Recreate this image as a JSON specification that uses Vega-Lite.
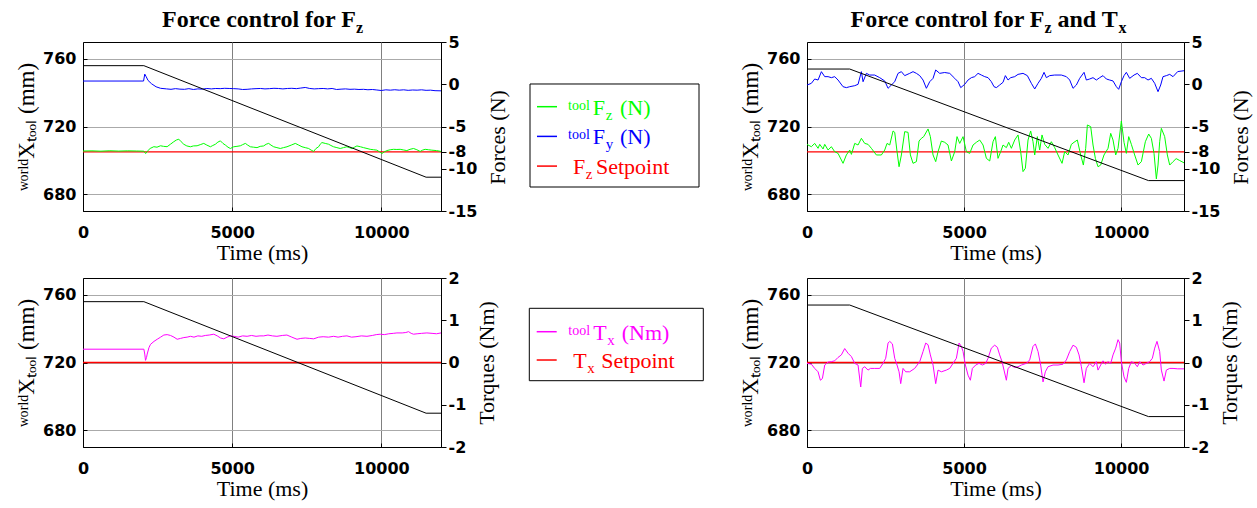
{
"$schema":"https://vega.github.io/schema/vega-lite/v6.json",
"background":"white",
"padding":{"left":15,"top":7,"right":2,"bottom":2},
"columns":3,
"bounds":"flush",
"spacing":{"row":67,"column":0},
"config":{
 "view":{"stroke":"black","strokeWidth":1},
 "axis":{"domainColor":"black","domainWidth":1,"tickColor":"black","tickWidth":1,"labelColor":"black","labelFont":"DejaVu Sans","labelFontWeight":"bold","labelFontSize":16,"titleColor":"black","titleFont":"Liberation Serif","titleFontWeight":"normal","titleFontSize":22,"gridWidth":1,"gridOpacity":1}
},
"datasets":{
 "sp8":[{"t":0,"v":-8},{"t":12000,"v":-8}],
 "sp0":[{"t":0,"v":0},{"t":12000,"v":0}],
 "b1":[{"t":0,"v":756},{"t":2040,"v":756},{"t":11500,"v":690},{"t":12000,"v":690}],
 "b2":[{"t":0,"v":754},{"t":1360,"v":754},{"t":10870,"v":688},{"t":12000,"v":688}],
 "ttl":[{"k":"main"}],
 "p1fy":[{"t":0,"v":0.38},{"t":2030,"v":0.38},{"t":2070,"v":1.2},{"t":2110,"v":0.95},{"t":2180,"v":0.45},{"t":2300,"v":0.05},{"t":2450,"v":-0.3},{"t":2600,"v":-0.48},{"t":2800,"v":-0.55},{"t":2950,"v":-0.6},{"t":3100,"v":-0.52},{"t":3250,"v":-0.58},{"t":3400,"v":-0.6},{"t":3550,"v":-0.52},{"t":3700,"v":-0.62},{"t":3850,"v":-0.55},{"t":4000,"v":-0.58},{"t":4150,"v":-0.5},{"t":4300,"v":-0.55},{"t":4450,"v":-0.5},{"t":4600,"v":-0.52},{"t":4750,"v":-0.48},{"t":4900,"v":-0.5},{"t":5050,"v":-0.52},{"t":5200,"v":-0.55},{"t":5350,"v":-0.62},{"t":5500,"v":-0.6},{"t":5650,"v":-0.55},{"t":5800,"v":-0.52},{"t":5950,"v":-0.5},{"t":6100,"v":-0.55},{"t":6250,"v":-0.52},{"t":6400,"v":-0.48},{"t":6550,"v":-0.5},{"t":6700,"v":-0.55},{"t":6850,"v":-0.5},{"t":7000,"v":-0.48},{"t":7150,"v":-0.52},{"t":7300,"v":-0.45},{"t":7450,"v":-0.38},{"t":7600,"v":-0.5},{"t":7750,"v":-0.55},{"t":7900,"v":-0.52},{"t":8050,"v":-0.5},{"t":8200,"v":-0.55},{"t":8350,"v":-0.5},{"t":8500,"v":-0.62},{"t":8650,"v":-0.58},{"t":8800,"v":-0.55},{"t":8950,"v":-0.6},{"t":9100,"v":-0.58},{"t":9250,"v":-0.62},{"t":9400,"v":-0.6},{"t":9550,"v":-0.65},{"t":9700,"v":-0.62},{"t":9850,"v":-0.68},{"t":10000,"v":-0.74},{"t":10150,"v":-0.66},{"t":10300,"v":-0.7},{"t":10450,"v":-0.65},{"t":10600,"v":-0.7},{"t":10750,"v":-0.66},{"t":10900,"v":-0.72},{"t":11050,"v":-0.68},{"t":11200,"v":-0.7},{"t":11350,"v":-0.66},{"t":11500,"v":-0.72},{"t":11650,"v":-0.7},{"t":11800,"v":-0.76},{"t":12000,"v":-0.78}],
 "p1fz":[{"t":0,"v":-7.9},{"t":300,"v":-7.88},{"t":600,"v":-7.92},{"t":900,"v":-7.87},{"t":1200,"v":-7.91},{"t":1500,"v":-7.88},{"t":1800,"v":-7.9},{"t":2040,"v":-7.92},{"t":2100,"v":-8.2},{"t":2150,"v":-7.95},{"t":2250,"v":-7.6},{"t":2374,"v":-7.39},{"t":2480,"v":-7.45},{"t":2597,"v":-7.28},{"t":2700,"v":-7.35},{"t":2820,"v":-7.39},{"t":2930,"v":-7.1},{"t":3043,"v":-6.8},{"t":3130,"v":-6.6},{"t":3211,"v":-6.5},{"t":3290,"v":-6.8},{"t":3378,"v":-7.1},{"t":3480,"v":-7.3},{"t":3601,"v":-7.4},{"t":3700,"v":-7.3},{"t":3824,"v":-7.28},{"t":3930,"v":-7.15},{"t":4048,"v":-7.0},{"t":4150,"v":-7.2},{"t":4271,"v":-7.4},{"t":4350,"v":-7.25},{"t":4438,"v":-7.1},{"t":4520,"v":-6.85},{"t":4606,"v":-6.7},{"t":4690,"v":-7.0},{"t":4773,"v":-7.2},{"t":4860,"v":-7.45},{"t":4940,"v":-7.6},{"t":5052,"v":-7.4},{"t":5160,"v":-7.35},{"t":5275,"v":-7.28},{"t":5350,"v":-7.15},{"t":5443,"v":-7.0},{"t":5520,"v":-7.2},{"t":5610,"v":-7.4},{"t":5720,"v":-7.45},{"t":5833,"v":-7.5},{"t":5940,"v":-7.35},{"t":6056,"v":-7.3},{"t":6140,"v":-7.1},{"t":6224,"v":-7.0},{"t":6300,"v":-7.2},{"t":6391,"v":-7.4},{"t":6500,"v":-7.5},{"t":6614,"v":-7.6},{"t":6720,"v":-7.5},{"t":6838,"v":-7.4},{"t":6980,"v":-7.2},{"t":7117,"v":-7.0},{"t":7230,"v":-7.2},{"t":7340,"v":-7.4},{"t":7450,"v":-7.5},{"t":7563,"v":-7.6},{"t":7650,"v":-7.8},{"t":7730,"v":-7.95},{"t":7810,"v":-7.6},{"t":7898,"v":-7.4},{"t":7950,"v":-7.1},{"t":8009,"v":-6.9},{"t":8120,"v":-7.0},{"t":8233,"v":-7.1},{"t":8310,"v":-7.25},{"t":8400,"v":-7.4},{"t":8510,"v":-7.5},{"t":8623,"v":-7.6},{"t":8730,"v":-7.5},{"t":8846,"v":-7.4},{"t":8930,"v":-7.5},{"t":9014,"v":-7.6},{"t":9100,"v":-7.45},{"t":9181,"v":-7.3},{"t":9300,"v":-7.4},{"t":9404,"v":-7.5},{"t":9520,"v":-7.6},{"t":9628,"v":-7.7},{"t":9740,"v":-7.75},{"t":9851,"v":-7.8},{"t":9940,"v":-8.0},{"t":10018,"v":-8.2},{"t":10100,"v":-8.0},{"t":10186,"v":-7.85},{"t":10300,"v":-7.75},{"t":10409,"v":-7.7},{"t":10520,"v":-7.72},{"t":10632,"v":-7.7},{"t":10750,"v":-7.78},{"t":10855,"v":-7.85},{"t":10960,"v":-7.7},{"t":11078,"v":-7.6},{"t":11190,"v":-7.75},{"t":11302,"v":-7.95},{"t":11380,"v":-7.8},{"t":11469,"v":-7.7},{"t":11580,"v":-7.75},{"t":11692,"v":-7.8},{"t":11850,"v":-7.85},{"t":12000,"v":-7.95}],
 "p2fy":[{"t":0,"v":-0.09},{"t":139,"v":0.11},{"t":245,"v":0.62},{"t":352,"v":0.5},{"t":458,"v":1.49},{"t":564,"v":0.9},{"t":670,"v":0.9},{"t":776,"v":0.78},{"t":882,"v":0.9},{"t":988,"v":0.5},{"t":1147,"v":-0.29},{"t":1253,"v":-0.4},{"t":1360,"v":-0.29},{"t":1519,"v":-0.17},{"t":1625,"v":-0.01},{"t":1731,"v":1.49},{"t":1784,"v":0.3},{"t":1890,"v":1.29},{"t":1996,"v":1.09},{"t":2155,"v":1.09},{"t":2314,"v":0.78},{"t":2474,"v":0.39},{"t":2580,"v":-0.48},{"t":2686,"v":-0.09},{"t":2792,"v":0.3},{"t":2898,"v":1.29},{"t":3004,"v":1.49},{"t":3110,"v":1.02},{"t":3269,"v":1.29},{"t":3375,"v":1.49},{"t":3482,"v":1.29},{"t":3588,"v":1.02},{"t":3694,"v":0.5},{"t":3800,"v":-0.48},{"t":3906,"v":0.3},{"t":4012,"v":0.7},{"t":4097,"v":1.69},{"t":4224,"v":1.29},{"t":4383,"v":1.39},{"t":4543,"v":1.29},{"t":4702,"v":0.7},{"t":4808,"v":0.3},{"t":4893,"v":-0.4},{"t":5020,"v":-0.01},{"t":5126,"v":0.5},{"t":5232,"v":0.78},{"t":5338,"v":0.9},{"t":5444,"v":1.29},{"t":5550,"v":1.09},{"t":5657,"v":0.9},{"t":5763,"v":0.78},{"t":5868,"v":0.3},{"t":5953,"v":-0.29},{"t":6027,"v":-0.4},{"t":6133,"v":-0.09},{"t":6240,"v":0.23},{"t":6314,"v":1.02},{"t":6399,"v":0.5},{"t":6484,"v":0.78},{"t":6611,"v":0.9},{"t":6717,"v":1.17},{"t":6876,"v":1.29},{"t":7014,"v":1.02},{"t":7141,"v":0.11},{"t":7248,"v":-0.56},{"t":7354,"v":0.11},{"t":7460,"v":0.7},{"t":7545,"v":1.41},{"t":7619,"v":0.78},{"t":7725,"v":1.02},{"t":7884,"v":1.09},{"t":8096,"v":1.09},{"t":8255,"v":0.9},{"t":8362,"v":0.5},{"t":8468,"v":-0.48},{"t":8574,"v":-0.09},{"t":8680,"v":0.7},{"t":8818,"v":1.41},{"t":8892,"v":0.5},{"t":8998,"v":0.62},{"t":9104,"v":0.78},{"t":9210,"v":0.5},{"t":9316,"v":0.78},{"t":9423,"v":1.02},{"t":9529,"v":0.62},{"t":9635,"v":0.5},{"t":9741,"v":0.39},{"t":9847,"v":-0.29},{"t":9921,"v":-0.6},{"t":10006,"v":0.3},{"t":10091,"v":1.02},{"t":10165,"v":1.41},{"t":10271,"v":0.7},{"t":10409,"v":1.09},{"t":10515,"v":1.29},{"t":10643,"v":0.78},{"t":10749,"v":0.78},{"t":10855,"v":0.5},{"t":10961,"v":0.7},{"t":11067,"v":0.11},{"t":11173,"v":-0.88},{"t":11258,"v":-0.09},{"t":11332,"v":0.9},{"t":11438,"v":1.02},{"t":11545,"v":1.17},{"t":11651,"v":0.9},{"t":11800,"v":1.5},{"t":12000,"v":1.6}],
 "p2fz":[{"t":0,"v":-7.1},{"t":33,"v":-7.19},{"t":139,"v":-7.39},{"t":245,"v":-7.0},{"t":352,"v":-7.58},{"t":405,"v":-7.11},{"t":511,"v":-7.66},{"t":564,"v":-7.11},{"t":670,"v":-7.78},{"t":776,"v":-7.39},{"t":882,"v":-7.98},{"t":988,"v":-8.18},{"t":1147,"v":-9.36},{"t":1253,"v":-8.37},{"t":1360,"v":-7.78},{"t":1413,"v":-8.3},{"t":1519,"v":-7.0},{"t":1625,"v":-7.19},{"t":1731,"v":-6.4},{"t":1837,"v":-7.0},{"t":1943,"v":-7.11},{"t":2049,"v":-7.58},{"t":2208,"v":-8.37},{"t":2367,"v":-8.37},{"t":2474,"v":-7.78},{"t":2548,"v":-7.0},{"t":2633,"v":-7.19},{"t":2739,"v":-5.53},{"t":2792,"v":-5.69},{"t":2866,"v":-7.98},{"t":2930,"v":-9.76},{"t":3004,"v":-8.37},{"t":3110,"v":-5.61},{"t":3216,"v":-5.69},{"t":3291,"v":-8.37},{"t":3375,"v":-9.36},{"t":3482,"v":-9.16},{"t":3566,"v":-6.72},{"t":3641,"v":-6.4},{"t":3715,"v":-6.2},{"t":3853,"v":-5.29},{"t":3927,"v":-6.2},{"t":4012,"v":-8.37},{"t":4097,"v":-9.16},{"t":4171,"v":-7.98},{"t":4277,"v":-6.72},{"t":4383,"v":-6.87},{"t":4489,"v":-7.19},{"t":4596,"v":-9.08},{"t":4702,"v":-7.98},{"t":4776,"v":-6.2},{"t":4861,"v":-7.0},{"t":4967,"v":-6.2},{"t":5073,"v":-7.98},{"t":5179,"v":-8.18},{"t":5285,"v":-7.19},{"t":5391,"v":-6.87},{"t":5497,"v":-6.6},{"t":5604,"v":-7.19},{"t":5710,"v":-8.77},{"t":5816,"v":-9.08},{"t":5921,"v":-6.8},{"t":5996,"v":-6.2},{"t":6080,"v":-8.77},{"t":6165,"v":-7.98},{"t":6240,"v":-7.19},{"t":6346,"v":-7.5},{"t":6420,"v":-6.87},{"t":6505,"v":-7.58},{"t":6611,"v":-6.6},{"t":6717,"v":-6.0},{"t":6802,"v":-7.98},{"t":6876,"v":-10.34},{"t":6950,"v":-9.95},{"t":7035,"v":-6.6},{"t":7120,"v":-5.53},{"t":7194,"v":-6.8},{"t":7248,"v":-8.37},{"t":7332,"v":-6.2},{"t":7407,"v":-7.78},{"t":7481,"v":-6.0},{"t":7566,"v":-7.11},{"t":7672,"v":-7.58},{"t":7778,"v":-6.8},{"t":7884,"v":-7.5},{"t":7990,"v":-8.37},{"t":8118,"v":-9.36},{"t":8202,"v":-7.98},{"t":8309,"v":-8.37},{"t":8415,"v":-7.11},{"t":8499,"v":-6.87},{"t":8605,"v":-6.6},{"t":8712,"v":-8.37},{"t":8797,"v":-9.56},{"t":8871,"v":-7.58},{"t":8924,"v":-4.82},{"t":9030,"v":-5.02},{"t":9104,"v":-7.19},{"t":9179,"v":-8.77},{"t":9263,"v":-9.76},{"t":9348,"v":-9.56},{"t":9454,"v":-8.37},{"t":9582,"v":-7.58},{"t":9667,"v":-5.81},{"t":9741,"v":-6.6},{"t":9826,"v":-8.37},{"t":9900,"v":-7.58},{"t":10006,"v":-4.35},{"t":10091,"v":-6.87},{"t":10165,"v":-8.18},{"t":10240,"v":-6.2},{"t":10324,"v":-7.11},{"t":10430,"v":-8.37},{"t":10537,"v":-9.56},{"t":10643,"v":-9.16},{"t":10770,"v":-6.8},{"t":10876,"v":-5.89},{"t":10961,"v":-6.4},{"t":11046,"v":-8.18},{"t":11120,"v":-11.2},{"t":11173,"v":-9.56},{"t":11226,"v":-6.8},{"t":11279,"v":-5.22},{"t":11385,"v":-6.2},{"t":11470,"v":-8.37},{"t":11545,"v":-9.56},{"t":11651,"v":-9.16},{"t":11750,"v":-8.8},{"t":11850,"v":-9.0},{"t":12000,"v":-9.3}],
 "p3tx":[{"t":0,"v":0.315},{"t":2040,"v":0.315},{"t":2070,"v":0.2},{"t":2096,"v":0.05},{"t":2130,"v":0.12},{"t":2152,"v":0.2},{"t":2210,"v":0.35},{"t":2264,"v":0.43},{"t":2380,"v":0.5},{"t":2487,"v":0.55},{"t":2600,"v":0.6},{"t":2710,"v":0.65},{"t":2820,"v":0.66},{"t":2933,"v":0.64},{"t":3050,"v":0.6},{"t":3156,"v":0.55},{"t":3270,"v":0.57},{"t":3380,"v":0.59},{"t":3490,"v":0.6},{"t":3603,"v":0.62},{"t":3720,"v":0.6},{"t":3850,"v":0.63},{"t":3980,"v":0.62},{"t":4100,"v":0.64},{"t":4230,"v":0.65},{"t":4384,"v":0.67},{"t":4500,"v":0.63},{"t":4610,"v":0.58},{"t":4719,"v":0.56},{"t":4830,"v":0.6},{"t":4942,"v":0.63},{"t":5060,"v":0.62},{"t":5200,"v":0.6},{"t":5350,"v":0.63},{"t":5500,"v":0.62},{"t":5650,"v":0.64},{"t":5800,"v":0.62},{"t":5930,"v":0.63},{"t":6058,"v":0.63},{"t":6200,"v":0.65},{"t":6350,"v":0.63},{"t":6500,"v":0.62},{"t":6680,"v":0.64},{"t":6835,"v":0.65},{"t":7000,"v":0.6},{"t":7174,"v":0.55},{"t":7300,"v":0.57},{"t":7450,"v":0.58},{"t":7600,"v":0.57},{"t":7732,"v":0.56},{"t":7900,"v":0.6},{"t":8050,"v":0.61},{"t":8230,"v":0.6},{"t":8402,"v":0.62},{"t":8550,"v":0.6},{"t":8700,"v":0.62},{"t":8848,"v":0.63},{"t":9000,"v":0.6},{"t":9150,"v":0.61},{"t":9330,"v":0.63},{"t":9518,"v":0.62},{"t":9700,"v":0.64},{"t":9830,"v":0.66},{"t":9964,"v":0.67},{"t":10100,"v":0.66},{"t":10250,"v":0.68},{"t":10400,"v":0.69},{"t":10522,"v":0.7},{"t":10700,"v":0.7},{"t":10820,"v":0.71},{"t":10913,"v":0.73},{"t":11000,"v":0.69},{"t":11080,"v":0.67},{"t":11200,"v":0.68},{"t":11350,"v":0.69},{"t":11526,"v":0.7},{"t":11700,"v":0.69},{"t":11850,"v":0.68},{"t":12000,"v":0.7}],
 "p4tx":[{"t":0,"v":-0.02},{"t":139,"v":-0.04},{"t":245,"v":-0.14},{"t":352,"v":-0.22},{"t":426,"v":-0.42},{"t":490,"v":-0.38},{"t":564,"v":-0.06},{"t":670,"v":0.01},{"t":776,"v":0.02},{"t":882,"v":0.04},{"t":988,"v":0.12},{"t":1094,"v":0.18},{"t":1200,"v":0.33},{"t":1306,"v":0.22},{"t":1413,"v":0.14},{"t":1519,"v":-0.02},{"t":1625,"v":-0.06},{"t":1710,"v":-0.58},{"t":1763,"v":-0.14},{"t":1837,"v":-0.1},{"t":1943,"v":-0.18},{"t":2017,"v":-0.14},{"t":2155,"v":-0.14},{"t":2314,"v":-0.14},{"t":2420,"v":-0.02},{"t":2505,"v":0.1},{"t":2580,"v":0.46},{"t":2633,"v":0.5},{"t":2718,"v":0.44},{"t":2792,"v":0.1},{"t":2866,"v":-0.06},{"t":2930,"v":-0.22},{"t":2983,"v":-0.5},{"t":3057,"v":-0.14},{"t":3142,"v":-0.22},{"t":3269,"v":-0.22},{"t":3428,"v":-0.14},{"t":3588,"v":0.02},{"t":3694,"v":0.26},{"t":3779,"v":0.46},{"t":3853,"v":0.42},{"t":3927,"v":0.18},{"t":4012,"v":-0.06},{"t":4097,"v":-0.5},{"t":4171,"v":-0.18},{"t":4277,"v":-0.22},{"t":4436,"v":-0.18},{"t":4543,"v":-0.14},{"t":4648,"v":-0.02},{"t":4755,"v":0.1},{"t":4840,"v":0.46},{"t":4914,"v":0.38},{"t":4967,"v":0.26},{"t":5041,"v":-0.06},{"t":5126,"v":-0.3},{"t":5200,"v":-0.42},{"t":5264,"v":-0.14},{"t":5370,"v":-0.06},{"t":5476,"v":-0.02},{"t":5582,"v":-0.06},{"t":5689,"v":-0.02},{"t":5762,"v":0.1},{"t":5868,"v":0.34},{"t":5974,"v":0.41},{"t":6059,"v":0.36},{"t":6133,"v":0.18},{"t":6208,"v":0.02},{"t":6271,"v":-0.18},{"t":6346,"v":-0.42},{"t":6399,"v":-0.14},{"t":6505,"v":-0.07},{"t":6611,"v":-0.12},{"t":6717,"v":-0.1},{"t":6823,"v":-0.06},{"t":6982,"v":-0.02},{"t":7088,"v":0.06},{"t":7194,"v":0.38},{"t":7269,"v":0.44},{"t":7354,"v":0.26},{"t":7438,"v":-0.06},{"t":7513,"v":-0.46},{"t":7587,"v":-0.22},{"t":7672,"v":-0.1},{"t":7831,"v":-0.06},{"t":7990,"v":-0.06},{"t":8149,"v":-0.04},{"t":8255,"v":0.06},{"t":8362,"v":0.26},{"t":8468,"v":0.41},{"t":8574,"v":0.36},{"t":8659,"v":0.18},{"t":8733,"v":-0.1},{"t":8818,"v":-0.48},{"t":8892,"v":-0.14},{"t":8998,"v":-0.02},{"t":9104,"v":-0.1},{"t":9210,"v":0.02},{"t":9263,"v":-0.18},{"t":9348,"v":-0.06},{"t":9423,"v":0.04},{"t":9497,"v":-0.04},{"t":9582,"v":0.02},{"t":9667,"v":-0.02},{"t":9741,"v":0.18},{"t":9826,"v":0.34},{"t":9900,"v":0.54},{"t":9953,"v":0.46},{"t":10006,"v":0.02},{"t":10091,"v":-0.34},{"t":10165,"v":-0.47},{"t":10240,"v":-0.14},{"t":10324,"v":0.02},{"t":10430,"v":-0.02},{"t":10515,"v":-0.1},{"t":10590,"v":0.02},{"t":10696,"v":-0.06},{"t":10802,"v":-0.02},{"t":10908,"v":0.02},{"t":10993,"v":0.1},{"t":11067,"v":0.34},{"t":11141,"v":0.5},{"t":11226,"v":0.26},{"t":11279,"v":-0.18},{"t":11364,"v":-0.44},{"t":11438,"v":-0.18},{"t":11545,"v":-0.14},{"t":11651,"v":-0.14},{"t":11800,"v":-0.15},{"t":12000,"v":-0.15}],
 "L1":[{"e":1,"s":"fz","sup":"tool","m":"F","sub":"z","r":"(N)"},{"e":2,"s":"fy","sup":"tool","m":"F","sub":"y","r":"(N)"},{"e":3,"s":"sp","m":"F","sub":"z","r":"Setpoint"}],
 "L2":[{"e":1,"s":"tx","sup":"tool","m":"T","sub":"x","r":"(Nm)"},{"e":2,"s":"sp","m":"T","sub":"x","r":"Setpoint"}]
},
"concat":[
 {
  "width":358,"height":169,
  "layer":[
   {
    "encoding":{
     "x":{"field":"t","type":"quantitative","scale":{"domain":[0,12000],"nice":false,"zero":false},"axis":{"values":[0,5000,10000],"labelExpr":"toString(datum.value)","title":"Time (ms)","grid":true,"gridColor":"#808080","tickSize":-4,"labelPadding":17,"labelFlush":false,"titlePadding":2}},
     "y":{"field":"v","type":"quantitative","scale":{"domain":[-15,5],"nice":false,"zero":false},"axis":{"orient":"right","values":[5,0,-5,-8,-10,-15],"labelExpr":"toString(datum.value)","title":"Forces (N)","grid":false,"tickSize":5,"labelPadding":2,"labelOverlap":false,"titleAngle":270,"titleBaseline":"top","titlePadding":11,"titleY":95}}
    },
    "layer":[
     {"data":{"name":"sp8"},"mark":{"type":"line","color":"#ff0000","strokeWidth":1.3}},
     {"data":{"name":"p1fy"},"mark":{"type":"line","color":"#0000ff","strokeWidth":1}},
     {"data":{"name":"p1fz"},"mark":{"type":"line","color":"#00ff00","strokeWidth":1}}
    ]
   },
   {
    "encoding":{
     "x":{"field":"t","type":"quantitative","scale":{"domain":[0,12000],"nice":false,"zero":false},"axis":{"values":[0,5000,10000],"labelExpr":"toString(datum.value)","title":"Time (ms)","grid":true,"gridColor":"#808080","tickSize":-4,"labelPadding":17,"labelFlush":false,"titlePadding":2}},
     "y":{"field":"v","type":"quantitative","scale":{"domain":[670,770],"nice":false,"zero":false},"axis":{"orient":"left","values":[680,720,760],"labelExpr":"toString(datum.value)","title":"ʷᵒʳˡᵈXₜₒₒₗ (mm)","grid":true,"gridColor":"#aaaaaa","tickSize":-4,"labelPadding":11,"titlePadding":4,"titleFontSize":23}}
    },
    "layer":[
     {"data":{"name":"b1"},"mark":{"type":"line","color":"black","strokeWidth":1}}
    ]
   },
   {"data":{"name":"ttl"},"mark":{"type":"text","font":"Liberation Serif","fontWeight":"bold","fontSize":24,"align":"right","baseline":"alphabetic","color":"black"},
    "encoding":{"x":{"datum":9150,"type":"quantitative","scale":{"domain":[0,12000],"nice":false,"zero":false},"axis":{"values":[0,5000,10000],"labelExpr":"toString(datum.value)","title":"Time (ms)","grid":true,"gridColor":"#808080","tickSize":-4,"labelPadding":17,"labelFlush":false,"titlePadding":2}},"y":{"datum":779,"type":"quantitative","scale":{"domain":[670,770],"nice":false,"zero":false},"axis":null},"text":{"value":"Force control for F"}}},
   {"data":{"name":"ttl"},"mark":{"type":"text","font":"Liberation Serif","fontWeight":"bold","fontSize":16,"align":"left","baseline":"alphabetic","dy":6,"color":"black"},
    "encoding":{"x":{"datum":9150,"type":"quantitative","scale":{"domain":[0,12000],"nice":false,"zero":false},"axis":{"values":[0,5000,10000],"labelExpr":"toString(datum.value)","title":"Time (ms)","grid":true,"gridColor":"#808080","tickSize":-4,"labelPadding":17,"labelFlush":false,"titlePadding":2}},"y":{"datum":779,"type":"quantitative","scale":{"domain":[670,770],"nice":false,"zero":false},"axis":null},"text":{"value":"z"}}}
  ],
  "resolve":{"scale":{"y":"independent"}}
 },
 {
  "width":366,"height":169,"view":{"stroke":null},
  "data":{"name":"L1"},
  "layer":[
   {"data":{"name":"ttl"},"mark":{"type":"rect","fill":"white","stroke":"black","strokeWidth":1},
    "encoding":{"x":{"datum":89,"type":"quantitative","scale":{"domain":[0,366],"nice":false,"zero":false},"axis":null},"x2":{"datum":258},"y":{"datum":0.236,"type":"quantitative","scale":{"domain":[4.512,-1.178],"nice":false,"zero":false},"axis":null},"y2":{"datum":3.704}}},
   {"mark":{"type":"rule","strokeWidth":1.5},
    "encoding":{"x":{"datum":96,"type":"quantitative","scale":{"domain":[0,366],"nice":false,"zero":false},"axis":null},"x2":{"datum":116},"y":{"field":"e","type":"quantitative","scale":{"domain":[4.512,-1.178],"nice":false,"zero":false},"axis":null},"color":{"field":"s","type":"nominal","scale":{"domain":["sp","fy","fz","tx"],"range":["#ff0000","#0000ff","#00ff00","#ff00ff"]},"legend":null}}},
   {"transform":[{"filter":"datum.sup"}],"mark":{"type":"text","font":"Liberation Serif","fontSize":14,"align":"left","baseline":"alphabetic","dy":3},
    "encoding":{"x":{"datum":127,"type":"quantitative","scale":{"domain":[0,366],"nice":false,"zero":false},"axis":null},"y":{"field":"e","type":"quantitative","scale":{"domain":[4.512,-1.178],"nice":false,"zero":false},"axis":null},"text":{"field":"sup"},"color":{"field":"s","type":"nominal","scale":{"domain":["sp","fy","fz","tx"],"range":["#ff0000","#0000ff","#00ff00","#ff00ff"]},"legend":null}}},
   {"transform":[{"filter":"datum.sup"}],"mark":{"type":"text","font":"Liberation Serif","fontSize":22,"align":"left","baseline":"alphabetic","dy":8},
    "encoding":{"x":{"datum":151.7,"type":"quantitative","scale":{"domain":[0,366],"nice":false,"zero":false},"axis":null},"y":{"field":"e","type":"quantitative","scale":{"domain":[4.512,-1.178],"nice":false,"zero":false},"axis":null},"text":{"field":"m"},"color":{"field":"s","type":"nominal","scale":{"domain":["sp","fy","fz","tx"],"range":["#ff0000","#0000ff","#00ff00","#ff00ff"]},"legend":null}}},
   {"transform":[{"filter":"datum.sup"}],"mark":{"type":"text","font":"Liberation Serif","fontSize":15,"align":"left","baseline":"alphabetic","dy":13},
    "encoding":{"x":{"datum":164.7,"type":"quantitative","scale":{"domain":[0,366],"nice":false,"zero":false},"axis":null},"y":{"field":"e","type":"quantitative","scale":{"domain":[4.512,-1.178],"nice":false,"zero":false},"axis":null},"text":{"field":"sub"},"color":{"field":"s","type":"nominal","scale":{"domain":["sp","fy","fz","tx"],"range":["#ff0000","#0000ff","#00ff00","#ff00ff"]},"legend":null}}},
   {"transform":[{"filter":"datum.sup"}],"mark":{"type":"text","font":"Liberation Serif","fontSize":22,"align":"left","baseline":"alphabetic","dy":8},
    "encoding":{"x":{"datum":179,"type":"quantitative","scale":{"domain":[0,366],"nice":false,"zero":false},"axis":null},"y":{"field":"e","type":"quantitative","scale":{"domain":[4.512,-1.178],"nice":false,"zero":false},"axis":null},"text":{"field":"r"},"color":{"field":"s","type":"nominal","scale":{"domain":["sp","fy","fz","tx"],"range":["#ff0000","#0000ff","#00ff00","#ff00ff"]},"legend":null}}},
   {"transform":[{"filter":"!datum.sup"}],"mark":{"type":"text","font":"Liberation Serif","fontSize":22,"align":"left","baseline":"alphabetic","dy":8},
    "encoding":{"x":{"datum":132,"type":"quantitative","scale":{"domain":[0,366],"nice":false,"zero":false},"axis":null},"y":{"field":"e","type":"quantitative","scale":{"domain":[4.512,-1.178],"nice":false,"zero":false},"axis":null},"text":{"field":"m"},"color":{"field":"s","type":"nominal","scale":{"domain":["sp","fy","fz","tx"],"range":["#ff0000","#0000ff","#00ff00","#ff00ff"]},"legend":null}}},
   {"transform":[{"filter":"!datum.sup"}],"mark":{"type":"text","font":"Liberation Serif","fontSize":15,"align":"left","baseline":"alphabetic","dy":13},
    "encoding":{"x":{"datum":144.7,"type":"quantitative","scale":{"domain":[0,366],"nice":false,"zero":false},"axis":null},"y":{"field":"e","type":"quantitative","scale":{"domain":[4.512,-1.178],"nice":false,"zero":false},"axis":null},"text":{"field":"sub"},"color":{"field":"s","type":"nominal","scale":{"domain":["sp","fy","fz","tx"],"range":["#ff0000","#0000ff","#00ff00","#ff00ff"]},"legend":null}}},
   {"transform":[{"filter":"!datum.sup"}],"mark":{"type":"text","font":"Liberation Serif","fontSize":22,"align":"left","baseline":"alphabetic","dy":8},
    "encoding":{"x":{"datum":155,"type":"quantitative","scale":{"domain":[0,366],"nice":false,"zero":false},"axis":null},"y":{"field":"e","type":"quantitative","scale":{"domain":[4.512,-1.178],"nice":false,"zero":false},"axis":null},"text":{"field":"r"},"color":{"field":"s","type":"nominal","scale":{"domain":["sp","fy","fz","tx"],"range":["#ff0000","#0000ff","#00ff00","#ff00ff"]},"legend":null}}}
  ]
 },
 {
  "width":377,"height":169,
  "layer":[
   {
    "encoding":{
     "x":{"field":"t","type":"quantitative","scale":{"domain":[0,12000],"nice":false,"zero":false},"axis":{"values":[0,5000,10000],"labelExpr":"toString(datum.value)","title":"Time (ms)","grid":true,"gridColor":"#808080","tickSize":-4,"labelPadding":17,"labelFlush":false,"titlePadding":2}},
     "y":{"field":"v","type":"quantitative","scale":{"domain":[-15,5],"nice":false,"zero":false},"axis":{"orient":"right","values":[5,0,-5,-8,-10,-15],"labelExpr":"toString(datum.value)","title":"Forces (N)","grid":false,"tickSize":5,"labelPadding":2,"labelOverlap":false,"titleAngle":270,"titleBaseline":"top","titlePadding":11,"titleY":95}}
    },
    "layer":[
     {"data":{"name":"sp8"},"mark":{"type":"line","color":"#ff0000","strokeWidth":1.3}},
     {"data":{"name":"p2fy"},"mark":{"type":"line","color":"#0000ff","strokeWidth":1}},
     {"data":{"name":"p2fz"},"mark":{"type":"line","color":"#00ff00","strokeWidth":1}}
    ]
   },
   {
    "encoding":{
     "x":{"field":"t","type":"quantitative","scale":{"domain":[0,12000],"nice":false,"zero":false},"axis":{"values":[0,5000,10000],"labelExpr":"toString(datum.value)","title":"Time (ms)","grid":true,"gridColor":"#808080","tickSize":-4,"labelPadding":17,"labelFlush":false,"titlePadding":2}},
     "y":{"field":"v","type":"quantitative","scale":{"domain":[670,770],"nice":false,"zero":false},"axis":{"orient":"left","values":[680,720,760],"labelExpr":"toString(datum.value)","title":"ʷᵒʳˡᵈXₜₒₒₗ (mm)","grid":true,"gridColor":"#aaaaaa","tickSize":-4,"labelPadding":11,"titlePadding":4,"titleFontSize":23}}
    },
    "layer":[
     {"data":{"name":"b2"},"mark":{"type":"line","color":"black","strokeWidth":1}}
    ]
   },
   {"data":{"name":"ttl"},"mark":{"type":"text","font":"Liberation Serif","fontWeight":"bold","fontSize":24,"align":"right","baseline":"alphabetic","color":"black"},
    "encoding":{"x":{"datum":7560,"type":"quantitative","scale":{"domain":[0,12000],"nice":false,"zero":false},"axis":{"values":[0,5000,10000],"labelExpr":"toString(datum.value)","title":"Time (ms)","grid":true,"gridColor":"#808080","tickSize":-4,"labelPadding":17,"labelFlush":false,"titlePadding":2}},"y":{"datum":779,"type":"quantitative","scale":{"domain":[670,770],"nice":false,"zero":false},"axis":null},"text":{"value":"Force control for F"}}},
   {"data":{"name":"ttl"},"mark":{"type":"text","font":"Liberation Serif","fontWeight":"bold","fontSize":16,"align":"left","baseline":"alphabetic","dy":6,"color":"black"},
    "encoding":{"x":{"datum":7560,"type":"quantitative","scale":{"domain":[0,12000],"nice":false,"zero":false},"axis":{"values":[0,5000,10000],"labelExpr":"toString(datum.value)","title":"Time (ms)","grid":true,"gridColor":"#808080","tickSize":-4,"labelPadding":17,"labelFlush":false,"titlePadding":2}},"y":{"datum":779,"type":"quantitative","scale":{"domain":[670,770],"nice":false,"zero":false},"axis":null},"text":{"value":"z"}}},
   {"data":{"name":"ttl"},"mark":{"type":"text","font":"Liberation Serif","fontWeight":"bold","fontSize":24,"align":"left","baseline":"alphabetic","dx":13,"color":"black"},
    "encoding":{"x":{"datum":7560,"type":"quantitative","scale":{"domain":[0,12000],"nice":false,"zero":false},"axis":{"values":[0,5000,10000],"labelExpr":"toString(datum.value)","title":"Time (ms)","grid":true,"gridColor":"#808080","tickSize":-4,"labelPadding":17,"labelFlush":false,"titlePadding":2}},"y":{"datum":779,"type":"quantitative","scale":{"domain":[670,770],"nice":false,"zero":false},"axis":null},"text":{"value":"and T"}}},
   {"data":{"name":"ttl"},"mark":{"type":"text","font":"Liberation Serif","fontWeight":"bold","fontSize":16,"align":"left","baseline":"alphabetic","dx":74,"dy":6,"color":"black"},
    "encoding":{"x":{"datum":7560,"type":"quantitative","scale":{"domain":[0,12000],"nice":false,"zero":false},"axis":{"values":[0,5000,10000],"labelExpr":"toString(datum.value)","title":"Time (ms)","grid":true,"gridColor":"#808080","tickSize":-4,"labelPadding":17,"labelFlush":false,"titlePadding":2}},"y":{"datum":779,"type":"quantitative","scale":{"domain":[670,770],"nice":false,"zero":false},"axis":null},"text":{"value":"x"}}}
  ],
  "resolve":{"scale":{"y":"independent"}}
 },
 {
  "width":358,"height":169,
  "layer":[
   {
    "encoding":{
     "x":{"field":"t","type":"quantitative","scale":{"domain":[0,12000],"nice":false,"zero":false},"axis":{"values":[0,5000,10000],"labelExpr":"toString(datum.value)","title":"Time (ms)","grid":true,"gridColor":"#808080","tickSize":-4,"labelPadding":17,"labelFlush":false,"titlePadding":2}},
     "y":{"field":"v","type":"quantitative","scale":{"domain":[-2,2],"nice":false,"zero":false},"axis":{"orient":"right","values":[2,1,0,-1,-2],"labelExpr":"toString(datum.value)","title":"Torques (Nm)","grid":false,"tickSize":5,"labelPadding":2,"labelOverlap":false,"titleAngle":270,"titleBaseline":"top","titlePadding":11}}
    },
    "layer":[
     {"data":{"name":"sp0"},"mark":{"type":"line","color":"#ff0000","strokeWidth":1.3}},
     {"data":{"name":"p3tx"},"mark":{"type":"line","color":"#ff00ff","strokeWidth":1}}
    ]
   },
   {
    "encoding":{
     "x":{"field":"t","type":"quantitative","scale":{"domain":[0,12000],"nice":false,"zero":false},"axis":{"values":[0,5000,10000],"labelExpr":"toString(datum.value)","title":"Time (ms)","grid":true,"gridColor":"#808080","tickSize":-4,"labelPadding":17,"labelFlush":false,"titlePadding":2}},
     "y":{"field":"v","type":"quantitative","scale":{"domain":[670,770],"nice":false,"zero":false},"axis":{"orient":"left","values":[680,720,760],"labelExpr":"toString(datum.value)","title":"ʷᵒʳˡᵈXₜₒₒₗ (mm)","grid":true,"gridColor":"#aaaaaa","tickSize":-4,"labelPadding":11,"titlePadding":4,"titleFontSize":23}}
    },
    "layer":[
     {"data":{"name":"b1"},"mark":{"type":"line","color":"black","strokeWidth":1}}
    ]
   }
  ],
  "resolve":{"scale":{"y":"independent"}}
 },
 {
  "width":366,"height":169,"view":{"stroke":null},
  "data":{"name":"L2"},
  "layer":[
   {"data":{"name":"ttl"},"mark":{"type":"rect","fill":"white","stroke":"black","strokeWidth":1},
    "encoding":{"x":{"datum":88.3,"type":"quantitative","scale":{"domain":[0,366],"nice":false,"zero":false},"axis":null},"x2":{"datum":262.3},"y":{"datum":0.173,"type":"quantitative","scale":{"domain":[5.074,-0.898],"nice":false,"zero":false},"axis":null},"y2":{"datum":2.731}}},
   {"mark":{"type":"rule","strokeWidth":1.5},
    "encoding":{"x":{"datum":95.7,"type":"quantitative","scale":{"domain":[0,366],"nice":false,"zero":false},"axis":null},"x2":{"datum":115.7},"y":{"field":"e","type":"quantitative","scale":{"domain":[5.074,-0.898],"nice":false,"zero":false},"axis":null},"color":{"field":"s","type":"nominal","scale":{"domain":["sp","fy","fz","tx"],"range":["#ff0000","#0000ff","#00ff00","#ff00ff"]},"legend":null}}},
   {"transform":[{"filter":"datum.sup"}],"mark":{"type":"text","font":"Liberation Serif","fontSize":14,"align":"left","baseline":"alphabetic","dy":3},
    "encoding":{"x":{"datum":127.3,"type":"quantitative","scale":{"domain":[0,366],"nice":false,"zero":false},"axis":null},"y":{"field":"e","type":"quantitative","scale":{"domain":[5.074,-0.898],"nice":false,"zero":false},"axis":null},"text":{"field":"sup"},"color":{"field":"s","type":"nominal","scale":{"domain":["sp","fy","fz","tx"],"range":["#ff0000","#0000ff","#00ff00","#ff00ff"]},"legend":null}}},
   {"transform":[{"filter":"datum.sup"}],"mark":{"type":"text","font":"Liberation Serif","fontSize":22,"align":"left","baseline":"alphabetic","dy":8},
    "encoding":{"x":{"datum":152.3,"type":"quantitative","scale":{"domain":[0,366],"nice":false,"zero":false},"axis":null},"y":{"field":"e","type":"quantitative","scale":{"domain":[5.074,-0.898],"nice":false,"zero":false},"axis":null},"text":{"field":"m"},"color":{"field":"s","type":"nominal","scale":{"domain":["sp","fy","fz","tx"],"range":["#ff0000","#0000ff","#00ff00","#ff00ff"]},"legend":null}}},
   {"transform":[{"filter":"datum.sup"}],"mark":{"type":"text","font":"Liberation Serif","fontSize":15,"align":"left","baseline":"alphabetic","dy":13},
    "encoding":{"x":{"datum":166.3,"type":"quantitative","scale":{"domain":[0,366],"nice":false,"zero":false},"axis":null},"y":{"field":"e","type":"quantitative","scale":{"domain":[5.074,-0.898],"nice":false,"zero":false},"axis":null},"text":{"field":"sub"},"color":{"field":"s","type":"nominal","scale":{"domain":["sp","fy","fz","tx"],"range":["#ff0000","#0000ff","#00ff00","#ff00ff"]},"legend":null}}},
   {"transform":[{"filter":"datum.sup"}],"mark":{"type":"text","font":"Liberation Serif","fontSize":22,"align":"left","baseline":"alphabetic","dy":8},
    "encoding":{"x":{"datum":180.7,"type":"quantitative","scale":{"domain":[0,366],"nice":false,"zero":false},"axis":null},"y":{"field":"e","type":"quantitative","scale":{"domain":[5.074,-0.898],"nice":false,"zero":false},"axis":null},"text":{"field":"r"},"color":{"field":"s","type":"nominal","scale":{"domain":["sp","fy","fz","tx"],"range":["#ff0000","#0000ff","#00ff00","#ff00ff"]},"legend":null}}},
   {"transform":[{"filter":"!datum.sup"}],"mark":{"type":"text","font":"Liberation Serif","fontSize":22,"align":"left","baseline":"alphabetic","dy":8},
    "encoding":{"x":{"datum":132.3,"type":"quantitative","scale":{"domain":[0,366],"nice":false,"zero":false},"axis":null},"y":{"field":"e","type":"quantitative","scale":{"domain":[5.074,-0.898],"nice":false,"zero":false},"axis":null},"text":{"field":"m"},"color":{"field":"s","type":"nominal","scale":{"domain":["sp","fy","fz","tx"],"range":["#ff0000","#0000ff","#00ff00","#ff00ff"]},"legend":null}}},
   {"transform":[{"filter":"!datum.sup"}],"mark":{"type":"text","font":"Liberation Serif","fontSize":15,"align":"left","baseline":"alphabetic","dy":13},
    "encoding":{"x":{"datum":146.3,"type":"quantitative","scale":{"domain":[0,366],"nice":false,"zero":false},"axis":null},"y":{"field":"e","type":"quantitative","scale":{"domain":[5.074,-0.898],"nice":false,"zero":false},"axis":null},"text":{"field":"sub"},"color":{"field":"s","type":"nominal","scale":{"domain":["sp","fy","fz","tx"],"range":["#ff0000","#0000ff","#00ff00","#ff00ff"]},"legend":null}}},
   {"transform":[{"filter":"!datum.sup"}],"mark":{"type":"text","font":"Liberation Serif","fontSize":22,"align":"left","baseline":"alphabetic","dy":8},
    "encoding":{"x":{"datum":160.3,"type":"quantitative","scale":{"domain":[0,366],"nice":false,"zero":false},"axis":null},"y":{"field":"e","type":"quantitative","scale":{"domain":[5.074,-0.898],"nice":false,"zero":false},"axis":null},"text":{"field":"r"},"color":{"field":"s","type":"nominal","scale":{"domain":["sp","fy","fz","tx"],"range":["#ff0000","#0000ff","#00ff00","#ff00ff"]},"legend":null}}}
  ]
 },
 {
  "width":377,"height":169,
  "layer":[
   {
    "encoding":{
     "x":{"field":"t","type":"quantitative","scale":{"domain":[0,12000],"nice":false,"zero":false},"axis":{"values":[0,5000,10000],"labelExpr":"toString(datum.value)","title":"Time (ms)","grid":true,"gridColor":"#808080","tickSize":-4,"labelPadding":17,"labelFlush":false,"titlePadding":2}},
     "y":{"field":"v","type":"quantitative","scale":{"domain":[-2,2],"nice":false,"zero":false},"axis":{"orient":"right","values":[2,1,0,-1,-2],"labelExpr":"toString(datum.value)","title":"Torques (Nm)","grid":false,"tickSize":5,"labelPadding":2,"labelOverlap":false,"titleAngle":270,"titleBaseline":"top","titlePadding":11}}
    },
    "layer":[
     {"data":{"name":"sp0"},"mark":{"type":"line","color":"#ff0000","strokeWidth":1.3}},
     {"data":{"name":"p4tx"},"mark":{"type":"line","color":"#ff00ff","strokeWidth":1}}
    ]
   },
   {
    "encoding":{
     "x":{"field":"t","type":"quantitative","scale":{"domain":[0,12000],"nice":false,"zero":false},"axis":{"values":[0,5000,10000],"labelExpr":"toString(datum.value)","title":"Time (ms)","grid":true,"gridColor":"#808080","tickSize":-4,"labelPadding":17,"labelFlush":false,"titlePadding":2}},
     "y":{"field":"v","type":"quantitative","scale":{"domain":[670,770],"nice":false,"zero":false},"axis":{"orient":"left","values":[680,720,760],"labelExpr":"toString(datum.value)","title":"ʷᵒʳˡᵈXₜₒₒₗ (mm)","grid":true,"gridColor":"#aaaaaa","tickSize":-4,"labelPadding":11,"titlePadding":4,"titleFontSize":23}}
    },
    "layer":[
     {"data":{"name":"b2"},"mark":{"type":"line","color":"black","strokeWidth":1}}
    ]
   }
  ],
  "resolve":{"scale":{"y":"independent"}}
 }
]
}
